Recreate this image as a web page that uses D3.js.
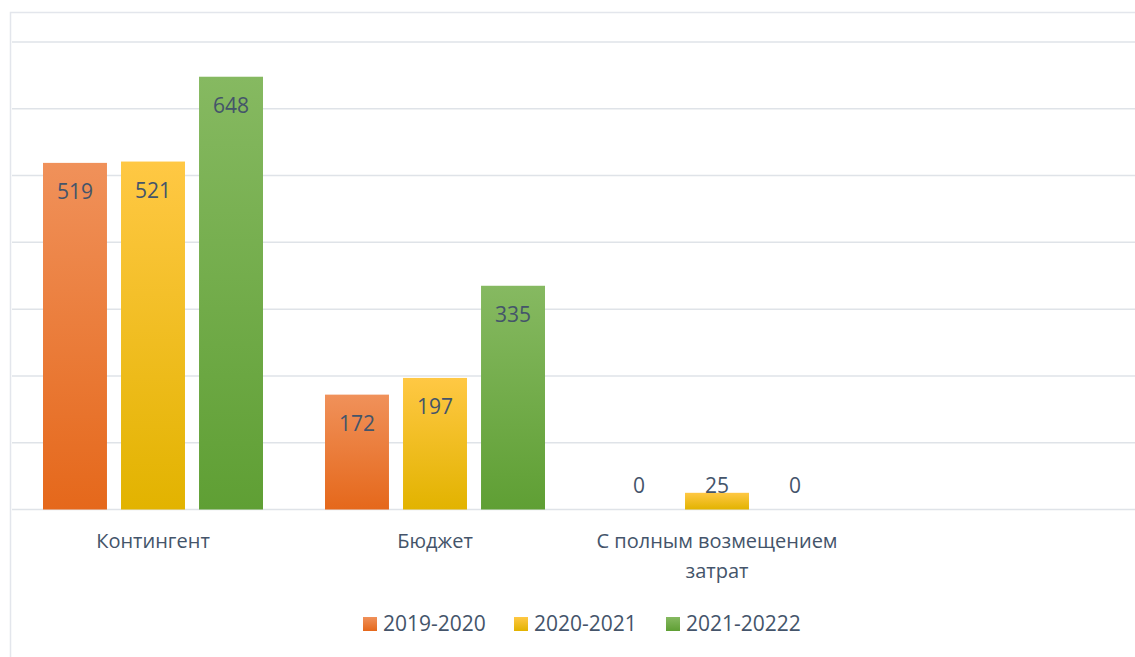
<!DOCTYPE html>
<html>
<head>
<meta charset="utf-8">
<script src="https://cdn.jsdelivr.net/npm/d3@7"></script>
<style>
	body { margin: 0; background: #fff; }
	svg { display: block; font-family: 'Open Sans', sans-serif; }
	.grid line { stroke: #dfe3e8; stroke-width: 1.5; }
	.label { fill: #44546a; font-size: 21px; }
	.cat-label { fill: #44546a; font-size: 20px; }
</style>
</head>
<body>
<svg id="chart" width="1135" height="657"></svg>
<script>
// categories (the last one is empty in the source chart)
const categories = ['Контингент', 'Бюджет', 'С полным возмещением затрат', ''];
const seriesNames = ['2019-2020', '2020-2021', '2021-20222'];
const values2019 = [519, 172, 0, null];
const values2020 = [521, 197, 25, null];
const values2021 = [648, 335, 0, null];
const yTicks = [0, 100, 200, 300, 400, 500, 600, 700];

const seriesValues = [values2019, values2020, values2021];
const gradStops = [
	['#f0915a', '#e5681b'],
	['#ffc844', '#e2b300'],
	['#86b961', '#5f9f34']
];

const svg = d3.select('#chart');
const defs = svg.append('defs');

// vertical gradients, one per series
gradStops.forEach((c, i) => {
	let g = defs.append('linearGradient').attr('id', 'grad' + i)
		.attr('x1', 0).attr('y1', 0).attr('x2', 0).attr('y2', 1);
	g.append('stop').attr('offset', '0%').attr('stop-color', c[0]);
	g.append('stop').attr('offset', '100%').attr('stop-color', c[1]);
});

const x = d3.scaleBand().domain(categories).range([12, 1140]);
const xSub = d3.scaleBand().domain(seriesNames)
	.range([31, x.bandwidth() - 31]).paddingInner(0.18);
const y = d3.scaleLinear().domain([0, 700]).range([509.5, 42]);

// chart frame
svg.append('path')
	.attr('d', 'M10.5,700 V12.5 H1200')
	.attr('fill', 'none').attr('stroke', '#e3e6ec').attr('stroke-width', 1.5);

// gridlines
svg.append('g').attr('class', 'grid')
	.selectAll('line').data(yTicks).enter().append('line')
	.attr('x1', 12).attr('x2', 1135)
	.attr('y1', (d) => y(d)).attr('y2', (d) => y(d));

// bars
let rows = [];
categories.forEach((c, ci) => {
	seriesNames.forEach((s, si) => {
		let v = seriesValues[si][ci];
		if (v !== null) rows.push({ cat: c, series: s, si: si, value: v });
	});
});

let barG = svg.append('g').selectAll('g').data(rows).enter().append('g')
	.attr('transform', (d) => 'translate(' + (x(d.cat) + xSub(d.series)) + ',0)');

barG.filter((d) => d.value > 0).append('rect')
	.attr('x', 0)
	.attr('y', (d) => y(d.value))
	.attr('width', xSub.bandwidth())
	.attr('height', (d) => y(0) - y(d.value))
	.attr('fill', (d) => 'url(#grad' + d.si + ')');

// value labels sit inside the top of the bar, or just above the axis if the bar is too short
barG.append('text')
	.attr('class', 'label')
	.attr('text-anchor', 'middle')
	.attr('x', xSub.bandwidth() / 2)
	.attr('y', (d) => Math.min(y(d.value) + 36, y(0) - 17))
	.text((d) => d.value);

// category labels, wrapped to the band width
let catText = svg.append('g').selectAll('text').data(categories).enter().append('text')
	.attr('class', 'cat-label')
	.attr('text-anchor', 'middle')
	.attr('x', (d) => x(d) + x.bandwidth() / 2)
	.attr('y', 548);

catText.each(function (d) {
	let el = d3.select(this);
	let words = d.split(' ');
	let line = [];
	let tspan = el.append('tspan').attr('x', el.attr('x')).attr('dy', 0);
	words.forEach((w) => {
		line.push(w);
		tspan.text(line.join(' '));
		if (tspan.node().getComputedTextLength() > 262 && line.length > 1) {
			line.pop();
			tspan.text(line.join(' '));
			line = [w];
			tspan = el.append('tspan').attr('x', el.attr('x')).attr('dy', 30).text(w);
		}
	});
});

// legend
const legendX = [363, 514, 666];
let legendG = svg.append('g').selectAll('g').data(seriesNames).enter().append('g')
	.attr('transform', (d, i) => 'translate(' + legendX[i] + ',617)');
legendG.append('rect')
	.attr('width', 14).attr('height', 14)
	.attr('fill', (d, i) => 'url(#grad' + i + ')');
legendG.append('text')
	.attr('class', 'label')
	.attr('x', 20).attr('y', 14)
	.text((d) => d);
</script>
</body>
</html>
